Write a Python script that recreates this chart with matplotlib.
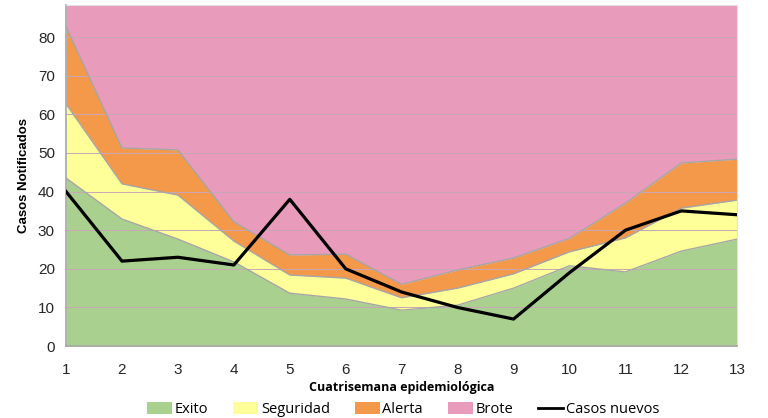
import matplotlib
matplotlib.use("Agg")
import matplotlib.pyplot as plt
from matplotlib.patches import Patch
from matplotlib.lines import Line2D

cuatrisemanas = list(range(1, 14))
exito = [43.5, 32.9, 27.7, 21.8, 13.7, 12.2, 9.3, 10.6, 15.0, 20.8, 19.2, 24.6, 27.7]
seguridad = [62.7, 42.0, 39.1, 27.2, 18.4, 17.6, 12.5, 15.0, 18.7, 24.4, 28.0, 35.7, 37.8]
alerta = [82.7, 51.3, 50.8, 32.2, 23.6, 23.8, 16.0, 19.7, 22.8, 27.9, 37.0, 47.4, 48.4]
brote_tope = 88.3
casos_nuevos = [40, 22, 23, 21, 38, 20, 14, 10, 7, 19, 30, 35, 34]
yticks = [0, 10, 20, 30, 40, 50, 60, 70, 80]

c_exito = "#a9d08e"
c_seg = "#ffff99"
c_alerta = "#f4984a"
c_brote = "#e99bbb"
edge = "#a6a6a6"

fig = plt.figure(figsize=(7.68, 4.18), dpi=100)
ax = fig.add_axes([0.086, 0.172, 0.874, 0.816])

x = cuatrisemanas
ax.fill_between(x, alerta, brote_tope, color=c_brote, lw=0, zorder=1)
ax.fill_between(x, seguridad, alerta, color=c_alerta, lw=0, zorder=1)
ax.fill_between(x, exito, seguridad, color=c_seg, lw=0, zorder=1)
ax.fill_between(x, 0, exito, color=c_exito, lw=0, zorder=1)
for arr in (exito, seguridad, alerta):
    ax.plot(x, arr, color=edge, lw=1.0, zorder=2)
ax.plot(x, casos_nuevos, color="black", lw=2.3, zorder=4)

for yv in yticks[1:]:
    ax.axhline(yv, color="#c9a7b6", lw=0.7, zorder=1.5)

ax.set_xlim(1, 13)
ax.set_ylim(0, brote_tope)
ax.set_xticks(cuatrisemanas)
ax.set_yticks(yticks)
ax.tick_params(axis="both", length=0, labelsize=11, colors="#262626")
ax.tick_params(axis="x", pad=12)
ax.tick_params(axis="y", pad=8)
for lab in ax.get_xticklabels() + ax.get_yticklabels():
    lab.set_family("Liberation Sans")
for s in ["left", "bottom"]:
    ax.spines[s].set_color("#a6a6a6")
    ax.spines[s].set_linewidth(1.2)
for s in ["top", "right"]:
    ax.spines[s].set_color("#e0e0e0")
    ax.spines[s].set_linewidth(0.8)

ax.set_ylabel("Casos Notificados", fontsize=9.5, fontweight="bold", family="Liberation Sans", labelpad=6)
ax.set_xlabel("Cuatrisemana epidemiológica", fontsize=9, fontweight="bold", family="Open Sans", labelpad=3)

handles = [Patch(facecolor=c_exito, edgecolor="none"),
           Patch(facecolor=c_seg, edgecolor="none"),
           Patch(facecolor=c_alerta, edgecolor="none"),
           Patch(facecolor=c_brote, edgecolor="none"),
           Line2D([0], [0], color="black", lw=2)]
labels = ["Exito", "Seguridad", "Alerta", "Brote", "Casos nuevos"]
fig.legend(handles, labels, loc="lower center", bbox_to_anchor=(0.525, -0.03), ncol=5,
           frameon=False, prop={"family": "Open Sans", "size": 10.5},
           handlelength=1.7, handleheight=0.9, handletextpad=0.2, columnspacing=1.7)

fig.savefig("out.png", dpi=100)
